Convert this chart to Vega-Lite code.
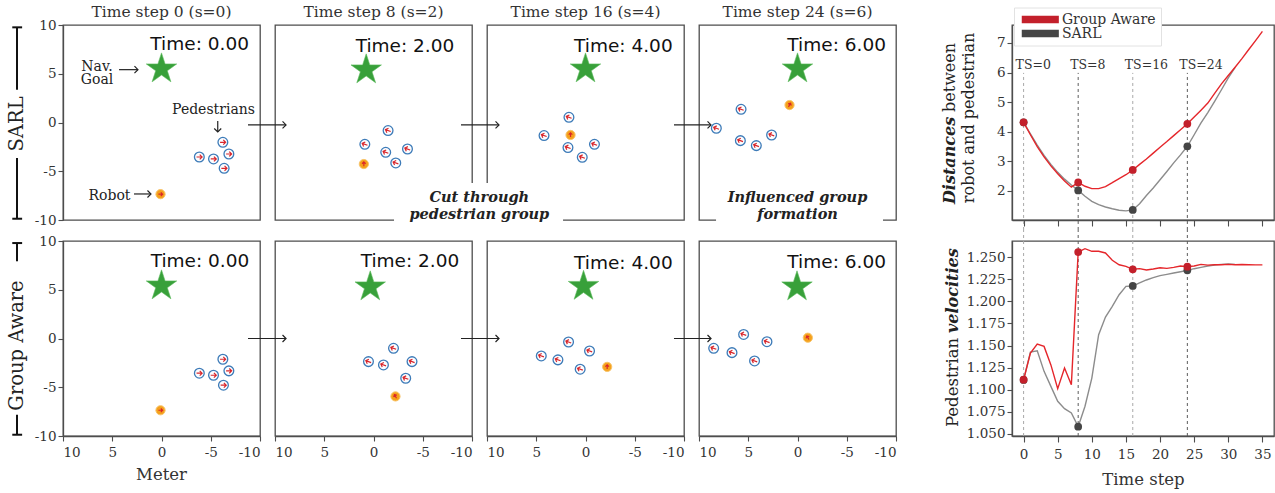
{
"$schema":"https://vega.github.io/schema/vega-lite/v6.json",
"background":"white",
"padding":{"left":6,"top":4,"right":2,"bottom":2},
"bounds":"full",
"spacing":44,
"config":{
 "font":"DejaVu Serif",
 "view":{"stroke":"#4d4d4d","strokeWidth":1.3},
 "axis":{"grid":false,"domainColor":"#4d4d4d","domainWidth":1.3,"tickColor":"#4d4d4d","tickWidth":1.1,"labelFont":"DejaVu Serif","labelFontSize":13.5,"labelColor":"#333","titleFont":"DejaVu Serif","titleFontSize":16.5,"titleFontWeight":"normal","titleColor":"#333","labelOverlap":false},
 "text":{"font":"DejaVu Serif"}
},
"datasets":{
 "scene":[
  {"m":"SARL","s":0,"k":"ped","x":-6.23,"y":-2.03,"h":0},
  {"m":"SARL","s":0,"k":"ped","x":-6.84,"y":-3.23,"h":0},
  {"m":"SARL","s":0,"k":"ped","x":-5.28,"y":-3.74,"h":0},
  {"m":"SARL","s":0,"k":"ped","x":-3.84,"y":-3.54,"h":0},
  {"m":"SARL","s":0,"k":"ped","x":-6.36,"y":-4.70,"h":0},
  {"m":"SARL","s":0,"k":"robot","x":0.1,"y":-7.35,"h":0},
  {"m":"SARL","s":0,"k":"goal","x":0,"y":5.5},
  {"m":"SARL","s":0,"k":"time","x":-8.88,"y":8.05,"label":"Time: 0.00"},
  {"m":"SARL","s":0,"k":"title","x":0,"y":11.33,"label":"Time step 0 (s=0)"},
  {"m":"SARL","s":0,"k":"note","x":6.55,"y":5.69,"label":"Nav."},
  {"m":"SARL","s":0,"k":"note","x":6.55,"y":4.31,"label":"Goal"},
  {"m":"SARL","s":0,"k":"note","x":-5.28,"y":1.31,"label":"Pedestrians"},
  {"m":"SARL","s":0,"k":"note","x":5.28,"y":-7.54,"label":"Robot"},
  {"m":"SARL","s":0,"k":"seg","x":4.31,"y":5.42,"x2":2.39,"y2":5.42},
  {"m":"SARL","s":0,"k":"seg","x":-5.71,"y":0.15,"x2":-5.71,"y2":-0.97},
  {"m":"SARL","s":0,"k":"seg","x":2.79,"y":-7.33,"x2":1.07,"y2":-7.33},
  {"m":"SARL","s":0,"k":"head","x":2.39,"y":5.42,"h":0},
  {"m":"SARL","s":0,"k":"head","x":-5.71,"y":-0.97,"h":90},
  {"m":"SARL","s":0,"k":"head","x":1.07,"y":-7.33,"h":0},
  {"m":"SARL","s":0,"k":"bar","x":14.67,"y":9.76,"x2":14.67,"y2":3.36},
  {"m":"SARL","s":0,"k":"bar","x":15.15,"y":9.76,"x2":14.15,"y2":9.76},
  {"m":"SARL","s":0,"k":"bar","x":14.67,"y":-3.64,"x2":14.67,"y2":-9.87},
  {"m":"SARL","s":0,"k":"bar","x":15.15,"y":-9.87,"x2":14.15,"y2":-9.87},
  {"m":"SARL","s":0,"k":"rowlab","x":14.67,"y":-0.15,"label":"SARL"},

  {"m":"SARL","s":8,"k":"ped","x":-1.48,"y":-0.83,"h":200},
  {"m":"SARL","s":8,"k":"ped","x":0.88,"y":-2.24,"h":200},
  {"m":"SARL","s":8,"k":"ped","x":-1.24,"y":-3.06,"h":200},
  {"m":"SARL","s":8,"k":"ped","x":-3.45,"y":-2.72,"h":200},
  {"m":"SARL","s":8,"k":"ped","x":-2.26,"y":-4.15,"h":200},
  {"m":"SARL","s":8,"k":"robot","x":0.98,"y":-4.26,"h":270},
  {"m":"SARL","s":8,"k":"goal","x":0.74,"y":5.4},
  {"m":"SARL","s":8,"k":"time","x":-8.2,"y":7.88,"label":"Time: 2.00"},
  {"m":"SARL","s":8,"k":"title","x":0,"y":11.33,"label":"Time step 8 (s=2)"},
  {"m":"SARL","s":8,"k":"seg","x":12.74,"y":-0.25,"x2":8.88,"y2":-0.25},
  {"m":"SARL","s":8,"k":"head","x":8.88,"y":-0.25,"h":0},

  {"m":"SARL","s":16,"k":"box","x":19.44,"y":-6.2,"x2":2.28,"y2":-11.03},
  {"m":"SARL","s":16,"k":"ped","x":1.68,"y":0.53,"h":200},
  {"m":"SARL","s":16,"k":"ped","x":4.21,"y":-1.34,"h":200},
  {"m":"SARL","s":16,"k":"ped","x":1.78,"y":-2.57,"h":200},
  {"m":"SARL","s":16,"k":"ped","x":-0.91,"y":-2.24,"h":200},
  {"m":"SARL","s":16,"k":"ped","x":0.33,"y":-3.57,"h":200},
  {"m":"SARL","s":16,"k":"robot","x":1.52,"y":-1.28,"h":270},
  {"m":"SARL","s":16,"k":"goal","x":0,"y":5.5},
  {"m":"SARL","s":16,"k":"time","x":-8.85,"y":7.82,"label":"Time: 4.00"},
  {"m":"SARL","s":16,"k":"title","x":0,"y":11.33,"label":"Time step 16 (s=4)"},
  {"m":"SARL","s":16,"k":"seg","x":12.64,"y":-0.25,"x2":8.78,"y2":-0.25},
  {"m":"SARL","s":16,"k":"head","x":8.78,"y":-0.25,"h":0},
  {"m":"SARL","s":16,"k":"bnote","x":10.78,"y":-7.74,"label":"Cut through"},
  {"m":"SARL","s":16,"k":"bnote","x":10.78,"y":-9.45,"label":"pedestrian group"},

  {"m":"SARL","s":24,"k":"box","x":8.27,"y":-6.72,"x2":-8.68,"y2":-11.03},
  {"m":"SARL","s":24,"k":"ped","x":5.73,"y":1.35,"h":200},
  {"m":"SARL","s":24,"k":"ped","x":8.24,"y":-0.59,"h":200},
  {"m":"SARL","s":24,"k":"ped","x":5.80,"y":-1.86,"h":200},
  {"m":"SARL","s":24,"k":"ped","x":4.18,"y":-2.37,"h":200},
  {"m":"SARL","s":24,"k":"ped","x":2.63,"y":-1.28,"h":200},
  {"m":"SARL","s":24,"k":"robot","x":0.81,"y":1.79,"h":300},
  {"m":"SARL","s":24,"k":"goal","x":0,"y":5.5},
  {"m":"SARL","s":24,"k":"time","x":-8.98,"y":7.98,"label":"Time: 6.00"},
  {"m":"SARL","s":24,"k":"title","x":0,"y":11.33,"label":"Time step 24 (s=6)"},
  {"m":"SARL","s":24,"k":"seg","x":12.54,"y":-0.25,"x2":8.78,"y2":-0.25},
  {"m":"SARL","s":24,"k":"head","x":8.78,"y":-0.25,"h":0},
  {"m":"SARL","s":24,"k":"bnote","x":0,"y":-7.74,"label":"Influenced group"},
  {"m":"SARL","s":24,"k":"bnote","x":0,"y":-9.45,"label":"formation"},

  {"m":"Group Aware","s":0,"k":"ped","x":-6.23,"y":-2.13,"h":0},
  {"m":"Group Aware","s":0,"k":"ped","x":-6.84,"y":-3.32,"h":0},
  {"m":"Group Aware","s":0,"k":"ped","x":-5.28,"y":-3.77,"h":0},
  {"m":"Group Aware","s":0,"k":"ped","x":-3.84,"y":-3.56,"h":0},
  {"m":"Group Aware","s":0,"k":"ped","x":-6.29,"y":-4.79,"h":0},
  {"m":"Group Aware","s":0,"k":"robot","x":0.1,"y":-7.36,"h":0},
  {"m":"Group Aware","s":0,"k":"goal","x":0,"y":5.4},
  {"m":"Group Aware","s":0,"k":"time","x":-8.91,"y":7.9,"label":"Time: 0.00"},
  {"m":"Group Aware","s":0,"k":"bar","x":14.67,"y":9.79,"x2":14.67,"y2":7.92},
  {"m":"Group Aware","s":0,"k":"bar","x":15.15,"y":9.79,"x2":14.15,"y2":9.79},
  {"m":"Group Aware","s":0,"k":"bar","x":14.67,"y":-7.82,"x2":14.67,"y2":-9.87},
  {"m":"Group Aware","s":0,"k":"bar","x":15.15,"y":-9.87,"x2":14.15,"y2":-9.87},
  {"m":"Group Aware","s":0,"k":"rowlab","x":14.67,"y":-0.72,"label":"Group Aware"},
  {"m":"Group Aware","s":0,"k":"axt","x":0,"y":-13.98,"label":"Meter"},

  {"m":"Group Aware","s":8,"k":"ped","x":-2.03,"y":-1.01,"h":200},
  {"m":"Group Aware","s":8,"k":"ped","x":0.51,"y":-2.37,"h":200},
  {"m":"Group Aware","s":8,"k":"ped","x":-1.01,"y":-2.71,"h":200},
  {"m":"Group Aware","s":8,"k":"ped","x":-3.91,"y":-2.37,"h":200},
  {"m":"Group Aware","s":8,"k":"ped","x":-3.27,"y":-4.08,"h":200},
  {"m":"Group Aware","s":8,"k":"robot","x":-2.23,"y":-5.94,"h":240},
  {"m":"Group Aware","s":8,"k":"goal","x":0.33,"y":5.3},
  {"m":"Group Aware","s":8,"k":"time","x":-8.71,"y":7.9,"label":"Time: 2.00"},
  {"m":"Group Aware","s":8,"k":"seg","x":12.74,"y":0,"x2":8.88,"y2":0},
  {"m":"Group Aware","s":8,"k":"head","x":8.88,"y":0,"h":0},

  {"m":"Group Aware","s":16,"k":"ped","x":1.72,"y":-0.36,"h":200},
  {"m":"Group Aware","s":16,"k":"ped","x":4.49,"y":-1.79,"h":200},
  {"m":"Group Aware","s":16,"k":"ped","x":2.80,"y":-2.19,"h":200},
  {"m":"Group Aware","s":16,"k":"ped","x":-0.41,"y":-1.28,"h":200},
  {"m":"Group Aware","s":16,"k":"ped","x":0.54,"y":-3.15,"h":200},
  {"m":"Group Aware","s":16,"k":"robot","x":-2.2,"y":-2.91,"h":270},
  {"m":"Group Aware","s":16,"k":"goal","x":0.2,"y":5.35},
  {"m":"Group Aware","s":16,"k":"time","x":-8.85,"y":7.72,"label":"Time: 4.00"},
  {"m":"Group Aware","s":16,"k":"seg","x":12.64,"y":0,"x2":8.78,"y2":0},
  {"m":"Group Aware","s":16,"k":"head","x":8.78,"y":0,"h":0},

  {"m":"Group Aware","s":24,"k":"ped","x":5.47,"y":0.42,"h":200},
  {"m":"Group Aware","s":24,"k":"ped","x":8.51,"y":-1.01,"h":200},
  {"m":"Group Aware","s":24,"k":"ped","x":6.65,"y":-1.45,"h":200},
  {"m":"Group Aware","s":24,"k":"ped","x":4.36,"y":-2.30,"h":200},
  {"m":"Group Aware","s":24,"k":"ped","x":3.10,"y":-0.33,"h":200},
  {"m":"Group Aware","s":24,"k":"robot","x":-1.05,"y":0.08,"h":240},
  {"m":"Group Aware","s":24,"k":"goal","x":0.05,"y":5.3},
  {"m":"Group Aware","s":24,"k":"time","x":-8.98,"y":7.8,"label":"Time: 6.00"},
  {"m":"Group Aware","s":24,"k":"seg","x":12.54,"y":0,"x2":8.78,"y2":0},
  {"m":"Group Aware","s":24,"k":"head","x":8.78,"y":0,"h":0}
 ],
 "ts":[{"t":0,"lab":"TS=0"},{"t":8,"lab":"TS=8"},{"t":16,"lab":"TS=16"},{"t":24,"lab":"TS=24"}],
 "dist":[
  {"method":"SARL","t":0,"v":4.32},{"method":"SARL","t":1,"v":3.93},{"method":"SARL","t":2,"v":3.55},{"method":"SARL","t":3,"v":3.20},
  {"method":"SARL","t":4,"v":2.90},{"method":"SARL","t":5,"v":2.63},{"method":"SARL","t":6,"v":2.40},{"method":"SARL","t":7,"v":2.20},
  {"method":"SARL","t":8,"v":2.02},{"method":"SARL","t":9,"v":1.82},{"method":"SARL","t":10,"v":1.65},{"method":"SARL","t":11,"v":1.54},
  {"method":"SARL","t":12,"v":1.46},{"method":"SARL","t":13,"v":1.40},{"method":"SARL","t":14,"v":1.35},{"method":"SARL","t":15,"v":1.33},
  {"method":"SARL","t":16,"v":1.36},{"method":"SARL","t":17,"v":1.57},{"method":"SARL","t":18,"v":1.85},{"method":"SARL","t":19,"v":2.10},
  {"method":"SARL","t":20,"v":2.38},{"method":"SARL","t":21,"v":2.66},{"method":"SARL","t":22,"v":2.95},{"method":"SARL","t":23,"v":3.22},
  {"method":"SARL","t":24,"v":3.51},{"method":"SARL","t":25,"v":3.90},{"method":"SARL","t":26,"v":4.30},{"method":"SARL","t":27,"v":4.65},
  {"method":"SARL","t":28,"v":5.03},{"method":"SARL","t":29,"v":5.42},{"method":"SARL","t":30,"v":5.82},{"method":"SARL","t":31,"v":6.18},
  {"method":"Group Aware","t":0,"v":4.32},{"method":"Group Aware","t":1,"v":3.90},{"method":"Group Aware","t":2,"v":3.50},{"method":"Group Aware","t":3,"v":3.15},
  {"method":"Group Aware","t":4,"v":2.85},{"method":"Group Aware","t":5,"v":2.58},{"method":"Group Aware","t":6,"v":2.34},{"method":"Group Aware","t":7,"v":2.13},
  {"method":"Group Aware","t":8,"v":2.29},{"method":"Group Aware","t":9,"v":2.16},{"method":"Group Aware","t":10,"v":2.08},{"method":"Group Aware","t":11,"v":2.08},
  {"method":"Group Aware","t":12,"v":2.15},{"method":"Group Aware","t":13,"v":2.28},{"method":"Group Aware","t":14,"v":2.42},{"method":"Group Aware","t":15,"v":2.55},
  {"method":"Group Aware","t":16,"v":2.71},{"method":"Group Aware","t":17,"v":2.90},{"method":"Group Aware","t":18,"v":3.08},{"method":"Group Aware","t":19,"v":3.28},
  {"method":"Group Aware","t":20,"v":3.48},{"method":"Group Aware","t":21,"v":3.67},{"method":"Group Aware","t":22,"v":3.87},{"method":"Group Aware","t":23,"v":4.07},
  {"method":"Group Aware","t":24,"v":4.27},{"method":"Group Aware","t":25,"v":4.50},{"method":"Group Aware","t":26,"v":4.73},{"method":"Group Aware","t":27,"v":4.97},
  {"method":"Group Aware","t":28,"v":5.30},{"method":"Group Aware","t":29,"v":5.62},{"method":"Group Aware","t":30,"v":5.90},{"method":"Group Aware","t":31,"v":6.18},
  {"method":"Group Aware","t":32,"v":6.47},{"method":"Group Aware","t":33,"v":6.78},{"method":"Group Aware","t":34,"v":7.08},{"method":"Group Aware","t":35,"v":7.39}
 ],
 "vel":[
  {"method":"SARL","t":0,"v":1.111},{"method":"SARL","t":1,"v":1.1426},{"method":"SARL","t":2,"v":1.1441},{"method":"SARL","t":3,"v":1.1207},
  {"method":"SARL","t":4,"v":1.1037},{"method":"SARL","t":5,"v":1.0867},{"method":"SARL","t":6,"v":1.0784},{"method":"SARL","t":7,"v":1.0735},
  {"method":"SARL","t":8,"v":1.058},{"method":"SARL","t":9,"v":1.0811},{"method":"SARL","t":10,"v":1.1131},{"method":"SARL","t":11,"v":1.1622},
  {"method":"SARL","t":12,"v":1.1823},{"method":"SARL","t":13,"v":1.1944},{"method":"SARL","t":14,"v":1.2076},{"method":"SARL","t":15,"v":1.2171},
  {"method":"SARL","t":16,"v":1.2175},{"method":"SARL","t":17,"v":1.2209},{"method":"SARL","t":18,"v":1.2243},{"method":"SARL","t":19,"v":1.2269},
  {"method":"SARL","t":20,"v":1.2292},{"method":"SARL","t":21,"v":1.2307},{"method":"SARL","t":22,"v":1.2322},{"method":"SARL","t":23,"v":1.2337},
  {"method":"SARL","t":24,"v":1.2352},{"method":"SARL","t":25,"v":1.2371},{"method":"SARL","t":26,"v":1.2386},{"method":"SARL","t":27,"v":1.2401},
  {"method":"SARL","t":28,"v":1.2413},{"method":"SARL","t":29,"v":1.242},{"method":"SARL","t":30,"v":1.2424},{"method":"SARL","t":31,"v":1.242},
  {"method":"Group Aware","t":0,"v":1.1112},{"method":"Group Aware","t":1,"v":1.1415},{"method":"Group Aware","t":2,"v":1.1517},{"method":"Group Aware","t":3,"v":1.149},
  {"method":"Group Aware","t":4,"v":1.128},{"method":"Group Aware","t":5,"v":1.101},{"method":"Group Aware","t":6,"v":1.1245},{"method":"Group Aware","t":7,"v":1.1056},
  {"method":"Group Aware","t":8,"v":1.256},{"method":"Group Aware","t":9,"v":1.2598},{"method":"Group Aware","t":10,"v":1.2568},{"method":"Group Aware","t":11,"v":1.2568},
  {"method":"Group Aware","t":12,"v":1.2549},{"method":"Group Aware","t":13,"v":1.2466},{"method":"Group Aware","t":14,"v":1.2416},{"method":"Group Aware","t":15,"v":1.2398},
  {"method":"Group Aware","t":16,"v":1.2364},{"method":"Group Aware","t":17,"v":1.2372},{"method":"Group Aware","t":18,"v":1.2356},{"method":"Group Aware","t":19,"v":1.2368},
  {"method":"Group Aware","t":20,"v":1.2382},{"method":"Group Aware","t":21,"v":1.2375},{"method":"Group Aware","t":22,"v":1.2386},{"method":"Group Aware","t":23,"v":1.2401},
  {"method":"Group Aware","t":24,"v":1.2394},{"method":"Group Aware","t":25,"v":1.2401},{"method":"Group Aware","t":26,"v":1.242},{"method":"Group Aware","t":27,"v":1.2412},
  {"method":"Group Aware","t":28,"v":1.2416},{"method":"Group Aware","t":29,"v":1.2416},{"method":"Group Aware","t":30,"v":1.242},{"method":"Group Aware","t":31,"v":1.2416},
  {"method":"Group Aware","t":32,"v":1.2418},{"method":"Group Aware","t":33,"v":1.2416},{"method":"Group Aware","t":34,"v":1.2414},{"method":"Group Aware","t":35,"v":1.2414}
 ]
},
"hconcat":[
 {
  "data":{"name":"scene"},
  "facet":{
   "row":{"field":"m","type":"nominal","sort":["SARL","Group Aware"],"header":null},
   "column":{"field":"s","type":"ordinal","sort":"ascending","header":null}
  },
  "spacing":{"row":21,"column":15},
  "bounds":"flush",
  "spec":{
   "width":197,"height":195,
   "encoding":{
    "x":{"field":"x","type":"quantitative","scale":{"domain":[-10,10],"reverse":true,"nice":false,"zero":false},"axis":{"values":[10,5,0,-5,-10],"title":null,"labelExpr":"''+datum.value","tickSize":5,"labelPadding":4}},
    "y":{"field":"y","type":"quantitative","scale":{"domain":[-10,10],"nice":false,"zero":false},"axis":{"values":[10,5,0,-5,-10],"title":null,"labelExpr":"''+datum.value","tickSize":5,"labelPadding":2,"labelFlush":false}}
   },
   "layer":[
    {"transform":[{"filter":"datum.k=='box'"}],"mark":{"type":"rect","fill":"white","clip":false},"encoding":{"x2":{"field":"x2"},"y2":{"field":"y2"}}},
    {"transform":[{"filter":"datum.k=='seg'"}],"mark":{"type":"rule","color":"#222","strokeWidth":1.2,"clip":false},"encoding":{"x2":{"field":"x2"},"y2":{"field":"y2"}}},
    {"transform":[{"filter":"datum.k=='bar'"}],"mark":{"type":"rule","color":"#111","strokeWidth":2,"clip":false},"encoding":{"x2":{"field":"x2"},"y2":{"field":"y2"}}},
    {"transform":[{"filter":"datum.k=='head'"}],"mark":{"type":"point","shape":"M-1,-1L0,0L-1,1","filled":false,"stroke":"#222","strokeWidth":1.2,"size":49,"opacity":1,"clip":false},"encoding":{"angle":{"field":"h","type":"quantitative","scale":null}}},
    {"transform":[{"filter":"datum.k=='ped'"}],"mark":{"type":"point","shape":"circle","filled":true,"fill":"#fbfdff","stroke":"#3d7bb8","strokeWidth":1.3,"size":95,"opacity":1,"clip":false}},
    {"transform":[{"filter":"datum.k=='ped'"}],"mark":{"type":"point","shape":"M-0.7,0L0.7,0M0.1,-0.6L0.7,0L0.1,0.6","filled":false,"stroke":"#d9262b","strokeWidth":1.2,"size":64,"opacity":1,"clip":false},"encoding":{"angle":{"field":"h","type":"quantitative","scale":null}}},
    {"transform":[{"filter":"datum.k=='robot'"}],"mark":{"type":"point","shape":"circle","filled":true,"fill":"#f5a11c","stroke":"#f8c46a","strokeWidth":1,"size":85,"opacity":1,"clip":false}},
    {"transform":[{"filter":"datum.k=='robot'"}],"mark":{"type":"point","shape":"M-0.7,0L0.7,0M0.1,-0.6L0.7,0L0.1,0.6","filled":false,"stroke":"#d9262b","strokeWidth":1.2,"size":36,"opacity":1,"clip":false},"encoding":{"angle":{"field":"h","type":"quantitative","scale":null}}},
    {"transform":[{"filter":"datum.k=='goal'"}],"mark":{"type":"point","shape":"M0,-1L0.2245,-0.309L0.951,-0.309L0.3633,0.118L0.5878,0.809L0,0.382L-0.5878,0.809L-0.3633,0.118L-0.951,-0.309L-0.2245,-0.309Z","filled":true,"fill":"#38a03a","stroke":"#5dbb5d","strokeWidth":0.6,"size":1024,"opacity":1,"clip":false}},
    {"transform":[{"filter":"datum.k=='time'"}],"mark":{"type":"text","font":"DejaVu Sans","fontSize":18.5,"align":"right","baseline":"middle","color":"#111","clip":false},"encoding":{"text":{"field":"label"}}},
    {"transform":[{"filter":"datum.k=='note'"}],"mark":{"type":"text","font":"DejaVu Serif","fontSize":14,"align":"center","baseline":"middle","color":"#222","clip":false},"encoding":{"text":{"field":"label"}}},
    {"transform":[{"filter":"datum.k=='bnote'"}],"mark":{"type":"text","font":"DejaVu Serif","fontSize":14.5,"fontStyle":"italic","fontWeight":"bold","align":"center","baseline":"middle","color":"#222","clip":false},"encoding":{"text":{"field":"label"}}},
    {"transform":[{"filter":"datum.k=='title'"}],"mark":{"type":"text","font":"DejaVu Serif","fontSize":15.5,"align":"center","baseline":"middle","color":"#333","clip":false},"encoding":{"text":{"field":"label"}}},
    {"transform":[{"filter":"datum.k=='rowlab'"}],"mark":{"type":"text","font":"DejaVu Serif","fontSize":19.5,"angle":270,"align":"center","baseline":"middle","color":"#222","clip":false},"encoding":{"text":{"field":"label"}}},
    {"transform":[{"filter":"datum.k=='axt'"}],"mark":{"type":"text","font":"DejaVu Serif","fontSize":16.5,"align":"center","baseline":"middle","color":"#333","clip":false},"encoding":{"text":{"field":"label"}}}
   ]
  }
 },
 {
  "vconcat":[
   {
    "width":262,"height":195,
    "layer":[
     {"data":{"name":"ts"},"mark":{"type":"rule","strokeDash":[3,3],"strokeWidth":1,"clip":false},
      "encoding":{
       "x":{"field":"t","type":"quantitative","scale":{"domain":[-1.7,36.7],"nice":false,"zero":false},"axis":{"values":[0,5,10,15,20,25,30,35],"labels":false,"title":null,"tickSize":6}},
       "y":{"datum":0.683,"type":"quantitative","scale":{"domain":[1.02,7.608],"nice":false,"zero":false},"axis":{"values":[2,3,4,5,6,7],"title":null,"tickSize":5,"labelPadding":2}},
       "y2":{"datum":5.99},
       "color":{"condition":{"test":"datum.t % 16 == 0","value":"#a8a8a8"},"value":"#5c5c5c"}}},
     {"data":{"name":"ts"},"mark":{"type":"text","align":"left","baseline":"middle","dx":-8,"fontSize":12.5,"color":"#333","clip":false},
      "encoding":{"x":{"field":"t","type":"quantitative","scale":{"domain":[-1.7,36.7],"nice":false,"zero":false},"axis":{"values":[0,5,10,15,20,25,30,35],"labels":false,"title":null,"tickSize":6}},
       "y":{"datum":6.27,"type":"quantitative","scale":{"domain":[1.02,7.608],"nice":false,"zero":false},"axis":{"values":[2,3,4,5,6,7],"title":null,"tickSize":5,"labelPadding":2}},"text":{"field":"lab"}}},
     {"data":{"name":"dist"},"mark":{"type":"line","strokeWidth":1.4,"clip":false},
      "encoding":{"x":{"field":"t","type":"quantitative","scale":{"domain":[-1.7,36.7],"nice":false,"zero":false},"axis":{"values":[0,5,10,15,20,25,30,35],"labels":false,"title":null,"tickSize":6}},
       "y":{"field":"v","type":"quantitative","scale":{"domain":[1.02,7.608],"nice":false,"zero":false},"axis":{"values":[2,3,4,5,6,7],"title":null,"tickSize":5,"labelPadding":2}},
       "detail":{"field":"method"},
       "stroke":{"condition":{"test":"datum.method == 'SARL'","value":"#8c8c8c"},"value":"#e5262b"}}},
     {"data":{"name":"dist"},"transform":[{"filter":"datum.t % 8 == 0 && datum.t <= 24"}],"mark":{"type":"point","filled":true,"size":60,"opacity":1,"clip":false},
      "encoding":{"x":{"field":"t","type":"quantitative","scale":{"domain":[-1.7,36.7],"nice":false,"zero":false},"axis":{"values":[0,5,10,15,20,25,30,35],"labels":false,"title":null,"tickSize":6}},
       "y":{"field":"v","type":"quantitative","scale":{"domain":[1.02,7.608],"nice":false,"zero":false},"axis":{"values":[2,3,4,5,6,7],"title":null,"tickSize":5,"labelPadding":2}},
       "fill":{"field":"method","type":"nominal","scale":{"domain":["Group Aware","SARL"],"range":["#c3202b","#454545"]},
        "legend":{"orient":"none","legendX":951,"legendY":-17.5,"title":null,"symbolType":"M-5,-1H5V1H-5Z","symbolSize":55,"symbolStrokeWidth":0,"symbolOpacity":1,"symbolOffset":14.3,"labelOffset":14.6,"labelFont":"DejaVu Serif","labelFontSize":14,"labelColor":"#333","rowPadding":0,"padding":5,"fillColor":"white","strokeColor":"#e2e2e2"}}}},
     {"data":{"values":[{"label":"Distances"}]},"mark":{"type":"text","angle":270,"align":"left","baseline":"middle","fontSize":16,"fontStyle":"italic","fontWeight":"bold","color":"#222","clip":false},
      "encoding":{"x":{"datum":-10.72,"type":"quantitative","scale":{"domain":[-1.7,36.7],"nice":false,"zero":false},"axis":{"values":[0,5,10,15,20,25,30,35],"labels":false,"title":null,"tickSize":6}},
       "y":{"datum":1.56,"type":"quantitative","scale":{"domain":[1.02,7.608],"nice":false,"zero":false},"axis":{"values":[2,3,4,5,6,7],"title":null,"tickSize":5,"labelPadding":2}},"text":{"field":"label"}}},
     {"data":{"values":[{"label":"between"}]},"mark":{"type":"text","angle":270,"align":"left","baseline":"middle","fontSize":16,"color":"#222","clip":false},
      "encoding":{"x":{"datum":-10.72,"type":"quantitative","scale":{"domain":[-1.7,36.7],"nice":false,"zero":false},"axis":{"values":[0,5,10,15,20,25,30,35],"labels":false,"title":null,"tickSize":6}},
       "y":{"datum":4.67,"type":"quantitative","scale":{"domain":[1.02,7.608],"nice":false,"zero":false},"axis":{"values":[2,3,4,5,6,7],"title":null,"tickSize":5,"labelPadding":2}},"text":{"field":"label"}}},
     {"data":{"values":[{"label":"robot and pedestrian"}]},"mark":{"type":"text","angle":270,"align":"center","baseline":"middle","fontSize":16,"color":"#222","clip":false},
      "encoding":{"x":{"datum":-8.01,"type":"quantitative","scale":{"domain":[-1.7,36.7],"nice":false,"zero":false},"axis":{"values":[0,5,10,15,20,25,30,35],"labels":false,"title":null,"tickSize":6}},
       "y":{"datum":4.47,"type":"quantitative","scale":{"domain":[1.02,7.608],"nice":false,"zero":false},"axis":{"values":[2,3,4,5,6,7],"title":null,"tickSize":5,"labelPadding":2}},"text":{"field":"label"}}}
    ]
   },
   {
    "width":262,"height":195,
    "layer":[
     {"data":{"name":"ts"},"mark":{"type":"rule","strokeDash":[3,3],"strokeWidth":1,"clip":false},
      "encoding":{
       "x":{"field":"t","type":"quantitative","scale":{"domain":[-1.7,36.7],"nice":false,"zero":false},"axis":{"values":[0,5,10,15,20,25,30,35],"title":"Time step","tickSize":6,"labelPadding":5,"titlePadding":11}},
       "y":{"datum":1.0474,"type":"quantitative","scale":{"domain":[1.0474,1.2685],"nice":false,"zero":false},"axis":{"values":[1.05,1.075,1.1,1.125,1.15,1.175,1.2,1.225,1.25],"format":".3f","title":null,"tickSize":5,"labelPadding":2}},
       "y2":{"datum":1.281},
       "color":{"condition":{"test":"datum.t % 16 == 0","value":"#a8a8a8"},"value":"#5c5c5c"}}},
     {"data":{"name":"vel"},"mark":{"type":"line","strokeWidth":1.4,"clip":false},
      "encoding":{"x":{"field":"t","type":"quantitative","scale":{"domain":[-1.7,36.7],"nice":false,"zero":false},"axis":{"values":[0,5,10,15,20,25,30,35],"title":"Time step","tickSize":6,"labelPadding":5,"titlePadding":11}},
       "y":{"field":"v","type":"quantitative","scale":{"domain":[1.0474,1.2685],"nice":false,"zero":false},"axis":{"values":[1.05,1.075,1.1,1.125,1.15,1.175,1.2,1.225,1.25],"format":".3f","title":null,"tickSize":5,"labelPadding":2}},
       "detail":{"field":"method"},
       "stroke":{"condition":{"test":"datum.method == 'SARL'","value":"#8c8c8c"},"value":"#e5262b"}}},
     {"data":{"name":"vel"},"transform":[{"filter":"datum.t % 8 == 0 && datum.t <= 24"}],"mark":{"type":"point","filled":true,"size":60,"opacity":1,"clip":false},
      "encoding":{"x":{"field":"t","type":"quantitative","scale":{"domain":[-1.7,36.7],"nice":false,"zero":false},"axis":{"values":[0,5,10,15,20,25,30,35],"title":"Time step","tickSize":6,"labelPadding":5,"titlePadding":11}},
       "y":{"field":"v","type":"quantitative","scale":{"domain":[1.0474,1.2685],"nice":false,"zero":false},"axis":{"values":[1.05,1.075,1.1,1.125,1.15,1.175,1.2,1.225,1.25],"format":".3f","title":null,"tickSize":5,"labelPadding":2}},
       "fill":{"condition":{"test":"datum.method == 'SARL'","value":"#454545"},"value":"#c3202b"}}},
     {"data":{"values":[{"label":"Pedestrian"}]},"mark":{"type":"text","angle":270,"align":"left","baseline":"middle","fontSize":16.5,"color":"#222","clip":false},
      "encoding":{"x":{"datum":-10.42,"type":"quantitative","scale":{"domain":[-1.7,36.7],"nice":false,"zero":false},"axis":{"values":[0,5,10,15,20,25,30,35],"title":"Time step","tickSize":6,"labelPadding":5,"titlePadding":11}},
       "y":{"datum":1.0576,"type":"quantitative","scale":{"domain":[1.0474,1.2685],"nice":false,"zero":false},"axis":{"values":[1.05,1.075,1.1,1.125,1.15,1.175,1.2,1.225,1.25],"format":".3f","title":null,"tickSize":5,"labelPadding":2}},"text":{"field":"label"}}},
     {"data":{"values":[{"label":"velocities"}]},"mark":{"type":"text","angle":270,"align":"left","baseline":"middle","fontSize":16,"fontStyle":"italic","fontWeight":"bold","color":"#222","clip":false},
      "encoding":{"x":{"datum":-10.42,"type":"quantitative","scale":{"domain":[-1.7,36.7],"nice":false,"zero":false},"axis":{"values":[0,5,10,15,20,25,30,35],"title":"Time step","tickSize":6,"labelPadding":5,"titlePadding":11}},
       "y":{"datum":1.1642,"type":"quantitative","scale":{"domain":[1.0474,1.2685],"nice":false,"zero":false},"axis":{"values":[1.05,1.075,1.1,1.125,1.15,1.175,1.2,1.225,1.25],"format":".3f","title":null,"tickSize":5,"labelPadding":2}},"text":{"field":"label"}}}
    ]
   }
  ],
  "spacing":21,
  "bounds":"flush"
 }
]
}
